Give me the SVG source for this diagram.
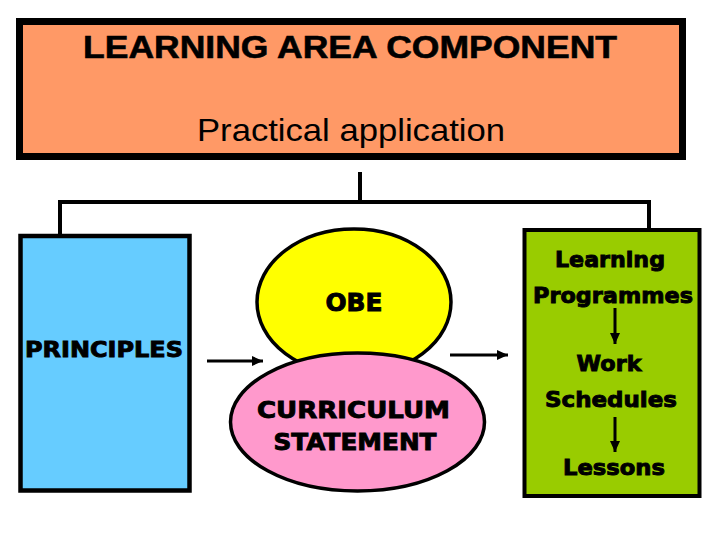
<svg xmlns="http://www.w3.org/2000/svg" width="720" height="540" viewBox="0 0 720 540">
<style>
.box{stroke:#000}
.t1{font-family:"Liberation Sans",Arial,sans-serif;fill:#000}
.t2{font-family:"DejaVu Sans",Verdana,sans-serif;font-weight:bold;fill:#000;stroke:#000;stroke-width:0.9;text-anchor:middle}
.ln{stroke:#000;fill:none}
</style>
<defs>
<marker id="ah" markerUnits="userSpaceOnUse" markerWidth="11" markerHeight="10" refX="11" refY="5" orient="auto">
<path d="M0,0 L11,5 L0,10 z" fill="#000"/>
</marker>
</defs>
<rect width="720" height="540" fill="#fff"/>
<g id="connectors">
<line class="ln" x1="360" y1="172" x2="360" y2="202" stroke-width="4"/>
<polyline class="ln" points="60,234 60,202 649,202 649,228" stroke-width="4"/>
<line class="ln" x1="207" y1="361" x2="263" y2="361" stroke-width="3" marker-end="url(#ah)"/>
<line class="ln" x1="450" y1="355" x2="508" y2="355" stroke-width="3" marker-end="url(#ah)"/>
</g>
<g id="top">
<rect class="box" x="19.5" y="21.5" width="663" height="135" fill="#FF9966" stroke-width="7"/>
<text class="t1" x="350" y="58" font-size="32" font-weight="bold" stroke="#000" stroke-width="0.6" text-anchor="middle" textLength="534" lengthAdjust="spacingAndGlyphs">LEARNING AREA COMPONENT</text>
<text class="t1" x="351" y="141" font-size="32" text-anchor="middle" textLength="308" lengthAdjust="spacingAndGlyphs">Practical application</text>
</g>
<g id="principles">
<rect class="box" x="20.5" y="236" width="169" height="254.5" fill="#66CCFF" stroke-width="4.5"/>
<text class="t2" x="104" y="357" font-size="22" textLength="158" lengthAdjust="spacingAndGlyphs">PRINCIPLES</text>
</g>
<g id="obe">
<ellipse class="box" cx="354" cy="302" rx="97" ry="73" fill="#FFFF00" stroke-width="3.5"/>
<text class="t2" x="354" y="311" font-size="24" textLength="57" lengthAdjust="spacingAndGlyphs">OBE</text>
</g>
<g id="curriculum">
<ellipse class="box" cx="357.5" cy="422" rx="127" ry="69" fill="#FF99CC" stroke-width="3.5"/>
<text class="t2" x="353.5" y="418" font-size="23" textLength="193" lengthAdjust="spacingAndGlyphs">CURRICULUM</text>
<text class="t2" x="355" y="450" font-size="23" textLength="163" lengthAdjust="spacingAndGlyphs">STATEMENT</text>
</g>
<g id="programmes">
<rect class="box" x="524.5" y="230" width="175" height="266" fill="#99CC00" stroke-width="4"/>
<text class="t2" x="610" y="267" font-size="21" textLength="110" lengthAdjust="spacingAndGlyphs">Learning</text>
<text class="t2" x="613" y="303" font-size="21" textLength="160" lengthAdjust="spacingAndGlyphs">Programmes</text>
<line class="ln" x1="615" y1="308" x2="615" y2="344" stroke-width="3" marker-end="url(#ah)"/>
<text class="t2" x="609" y="371" font-size="21" textLength="65" lengthAdjust="spacingAndGlyphs">Work</text>
<text class="t2" x="611" y="407" font-size="21" textLength="132" lengthAdjust="spacingAndGlyphs">Schedules</text>
<line class="ln" x1="615" y1="417" x2="615" y2="452" stroke-width="3" marker-end="url(#ah)"/>
<text class="t2" x="614" y="475" font-size="21" textLength="102" lengthAdjust="spacingAndGlyphs">Lessons</text>
</g>
</svg>
